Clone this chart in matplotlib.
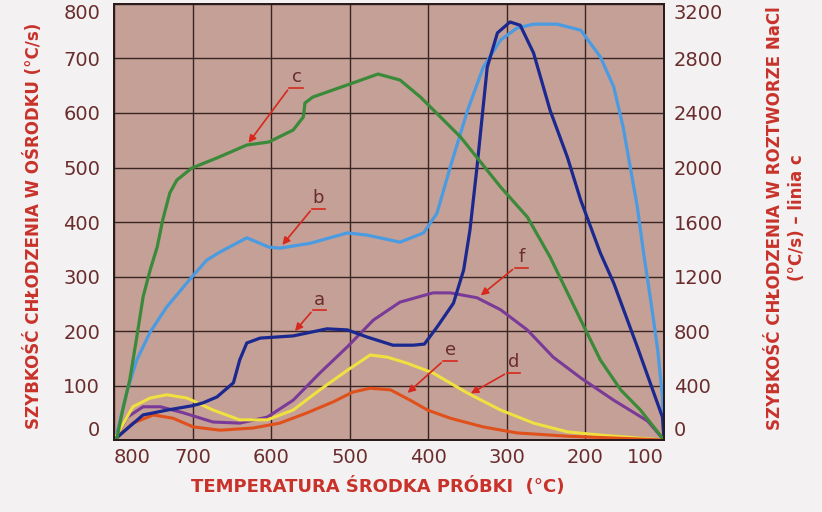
import matplotlib
matplotlib.use("Agg")
import matplotlib.pyplot as plt

# temperatures (°C) and cooling rates
# curve a - left axis
a_temp = [800, 763, 732, 700, 687, 669, 648, 640, 631, 614, 572, 529, 503, 478, 445, 419,
          405, 389, 368, 355, 347, 338, 325, 312, 296, 283, 266, 245, 223, 206, 181, 164, 134, 102, 100]
a_rate = [0, 46, 55, 63, 68, 79, 105, 147, 178, 187, 191, 204, 202, 189, 174, 174,
          176, 207, 251, 312, 385, 501, 684, 747, 767, 761, 710, 605, 519, 440, 343, 288, 171, 42, 0]

# curve b - left axis
b_temp = [800, 796, 783, 771, 754, 733, 701, 682, 665, 648, 631, 603, 589, 550, 503, 478, 436, 406,
          389, 372, 350, 330, 308, 287, 266, 236, 206, 181, 164, 152, 143, 134, 126, 117, 108, 102, 100]
b_rate = [0, 13, 92, 147, 198, 244, 299, 330, 345, 358, 371, 354, 352, 361, 380, 376, 363, 380,
          416, 501, 605, 684, 734, 756, 763, 763, 752, 703, 648, 574, 501, 428, 343, 257, 165, 79, 0]

# curve c - right axis (NaCl solution)
c_temp = [800, 796, 789, 780, 771, 763, 754, 745, 738, 729, 720, 701, 669, 631, 603, 572, 559, 557,
          547, 503, 464, 436, 410, 359, 308, 274, 245, 206, 181, 155, 130, 100]
c_rate = [0, 22, 220, 440, 756, 1050, 1248, 1417, 1615, 1813, 1908, 1996, 2070, 2165, 2187, 2275,
          2371, 2473, 2517, 2606, 2686, 2642, 2517, 2224, 1857, 1637, 1343, 881, 587, 367, 220, 0]

# curve d - left axis
d_temp = [800, 776, 750, 725, 699, 665, 623, 589, 554, 521, 496, 474, 448, 423, 401, 372,
          330, 287, 223, 100]
d_rate = [0, 31, 46, 40, 24, 18, 22, 31, 50, 70, 88, 95, 92, 73, 55, 40,
          24, 13, 7, 0]

# curve e - left axis
e_temp = [800, 776, 754, 733, 707, 674, 640, 605, 572, 538, 503, 474, 452, 427, 394, 350,
          308, 266, 223, 181, 100]
e_rate = [0, 61, 77, 83, 77, 55, 37, 37, 55, 92, 128, 156, 152, 141, 123, 86,
          55, 31, 15, 9, 0]

# curve f - left axis
f_temp = [800, 783, 763, 741, 712, 674, 640, 605, 572, 538, 503, 470, 436, 394, 372, 338,
          308, 274, 241, 206, 164, 121, 100]
f_rate = [0, 42, 61, 61, 50, 33, 31, 42, 73, 123, 171, 220, 253, 270, 270, 261,
          239, 202, 152, 114, 73, 35, 0]

x_ticks = [800, 700, 600, 500, 400, 300, 200, 100]
left_ticks = [0, 100, 200, 300, 400, 500, 600, 700, 800]
right_ticks = [0, 400, 800, 1200, 1600, 2000, 2400, 2800, 3200]

tick_color = "#6a2c2c"
label_color = "#c8322a"
arrow_color = "#d8281e"

fig = plt.figure(figsize=(8.22, 5.12), dpi=100, facecolor="#f3f1f1")
ax = fig.add_axes([0.1387, 0.1406, 0.6691, 0.8516])
ax.set_facecolor("#c4a096")
ax2 = ax.twinx()

ax.plot(b_temp, b_rate, color="#4a9be2", lw=2.3)
ax2.plot(c_temp, c_rate, color="#3a8a3a", lw=2.3)
ax.plot(f_temp, f_rate, color="#7a3a98", lw=2.2)
ax.plot(e_temp, e_rate, color="#f0e040", lw=2.2)
ax.plot(d_temp, d_rate, color="#e0501a", lw=2.2)
ax.plot(a_temp, a_rate, color="#1a2890", lw=2.3)

ax.set_xlim(800, 100)
ax.set_ylim(0, 800)
ax2.set_ylim(0, 3200)
ax.set_xticks(x_ticks)
ax.set_yticks(left_ticks)
ax2.set_yticks(right_ticks)
ax.grid(True, color="#3a2525", lw=1.0)
ax.set_axisbelow(True)
ax.tick_params(length=0, labelsize=14, labelcolor=tick_color)
ax.tick_params(axis="y", pad=10)
ax.tick_params(axis="x", pad=6)
ax2.tick_params(length=0, labelsize=14, labelcolor=tick_color, pad=7)
for sp in list(ax.spines.values()) + list(ax2.spines.values()):
    sp.set_color("#2a1a1a")
    sp.set_linewidth(1.3)

# end labels sit inside the frame
ax.get_xticklabels()[0].set_ha("left")
ax.get_xticklabels()[-1].set_ha("right")
ax.get_yticklabels()[0].set_va("bottom")
ax.get_yticklabels()[-1].set_va("top")
ax2.get_yticklabels()[0].set_va("bottom")
ax2.get_yticklabels()[-1].set_va("top")

# curve labels with arrows
labels = ["c", "b", "a", "f", "e", "d"]
label_pos = [(567, 646), (540, 424), (539, 238), (281, 316), (372, 145), (291, 123)]
arrow_tail = [(577, 646), (548, 424), (547, 238), (290, 316), (381, 145), (300, 123)]
arrow_head = [(631, 541), (588, 354), (572, 196), (336, 262), (429, 83), (349, 83)]
for lab, (tx, ty), tail, head in zip(labels, label_pos, arrow_tail, arrow_head):
    ax.text(tx, ty + 3, lab, color=tick_color, fontsize=13, ha="center", va="bottom")
    ax.plot([tail[0], tail[0] - 17], [ty, ty], color=arrow_color, lw=1.2)
    ax.annotate("", xy=head, xytext=tail,
                arrowprops=dict(arrowstyle="-|>", color=arrow_color, lw=1.2, mutation_scale=11))

fig.text(378 / 822, 1 - 486 / 512, "TEMPERATURA ŚRODKA PRÓBKI  (°C)", color=label_color,
         fontsize=13, fontweight="bold", ha="center", va="center")
fig.text(34 / 822, 1 - 226 / 512, "SZYBKOŚĆ CHŁODZENIA W OŚRODKU (°C/s)", color=label_color,
         fontsize=12, fontweight="bold", rotation=90, ha="center", va="center")
fig.text(786 / 822, 1 - 218 / 512, "SZYBKOŚĆ CHŁODZENIA W ROZTWORZE NaCl\n(°C/s) – linia c",
         color=label_color, fontsize=12, fontweight="bold", rotation=90,
         ha="center", va="center", multialignment="center", linespacing=1.35)

fig.savefig("out.png", dpi=100, facecolor=fig.get_facecolor())
